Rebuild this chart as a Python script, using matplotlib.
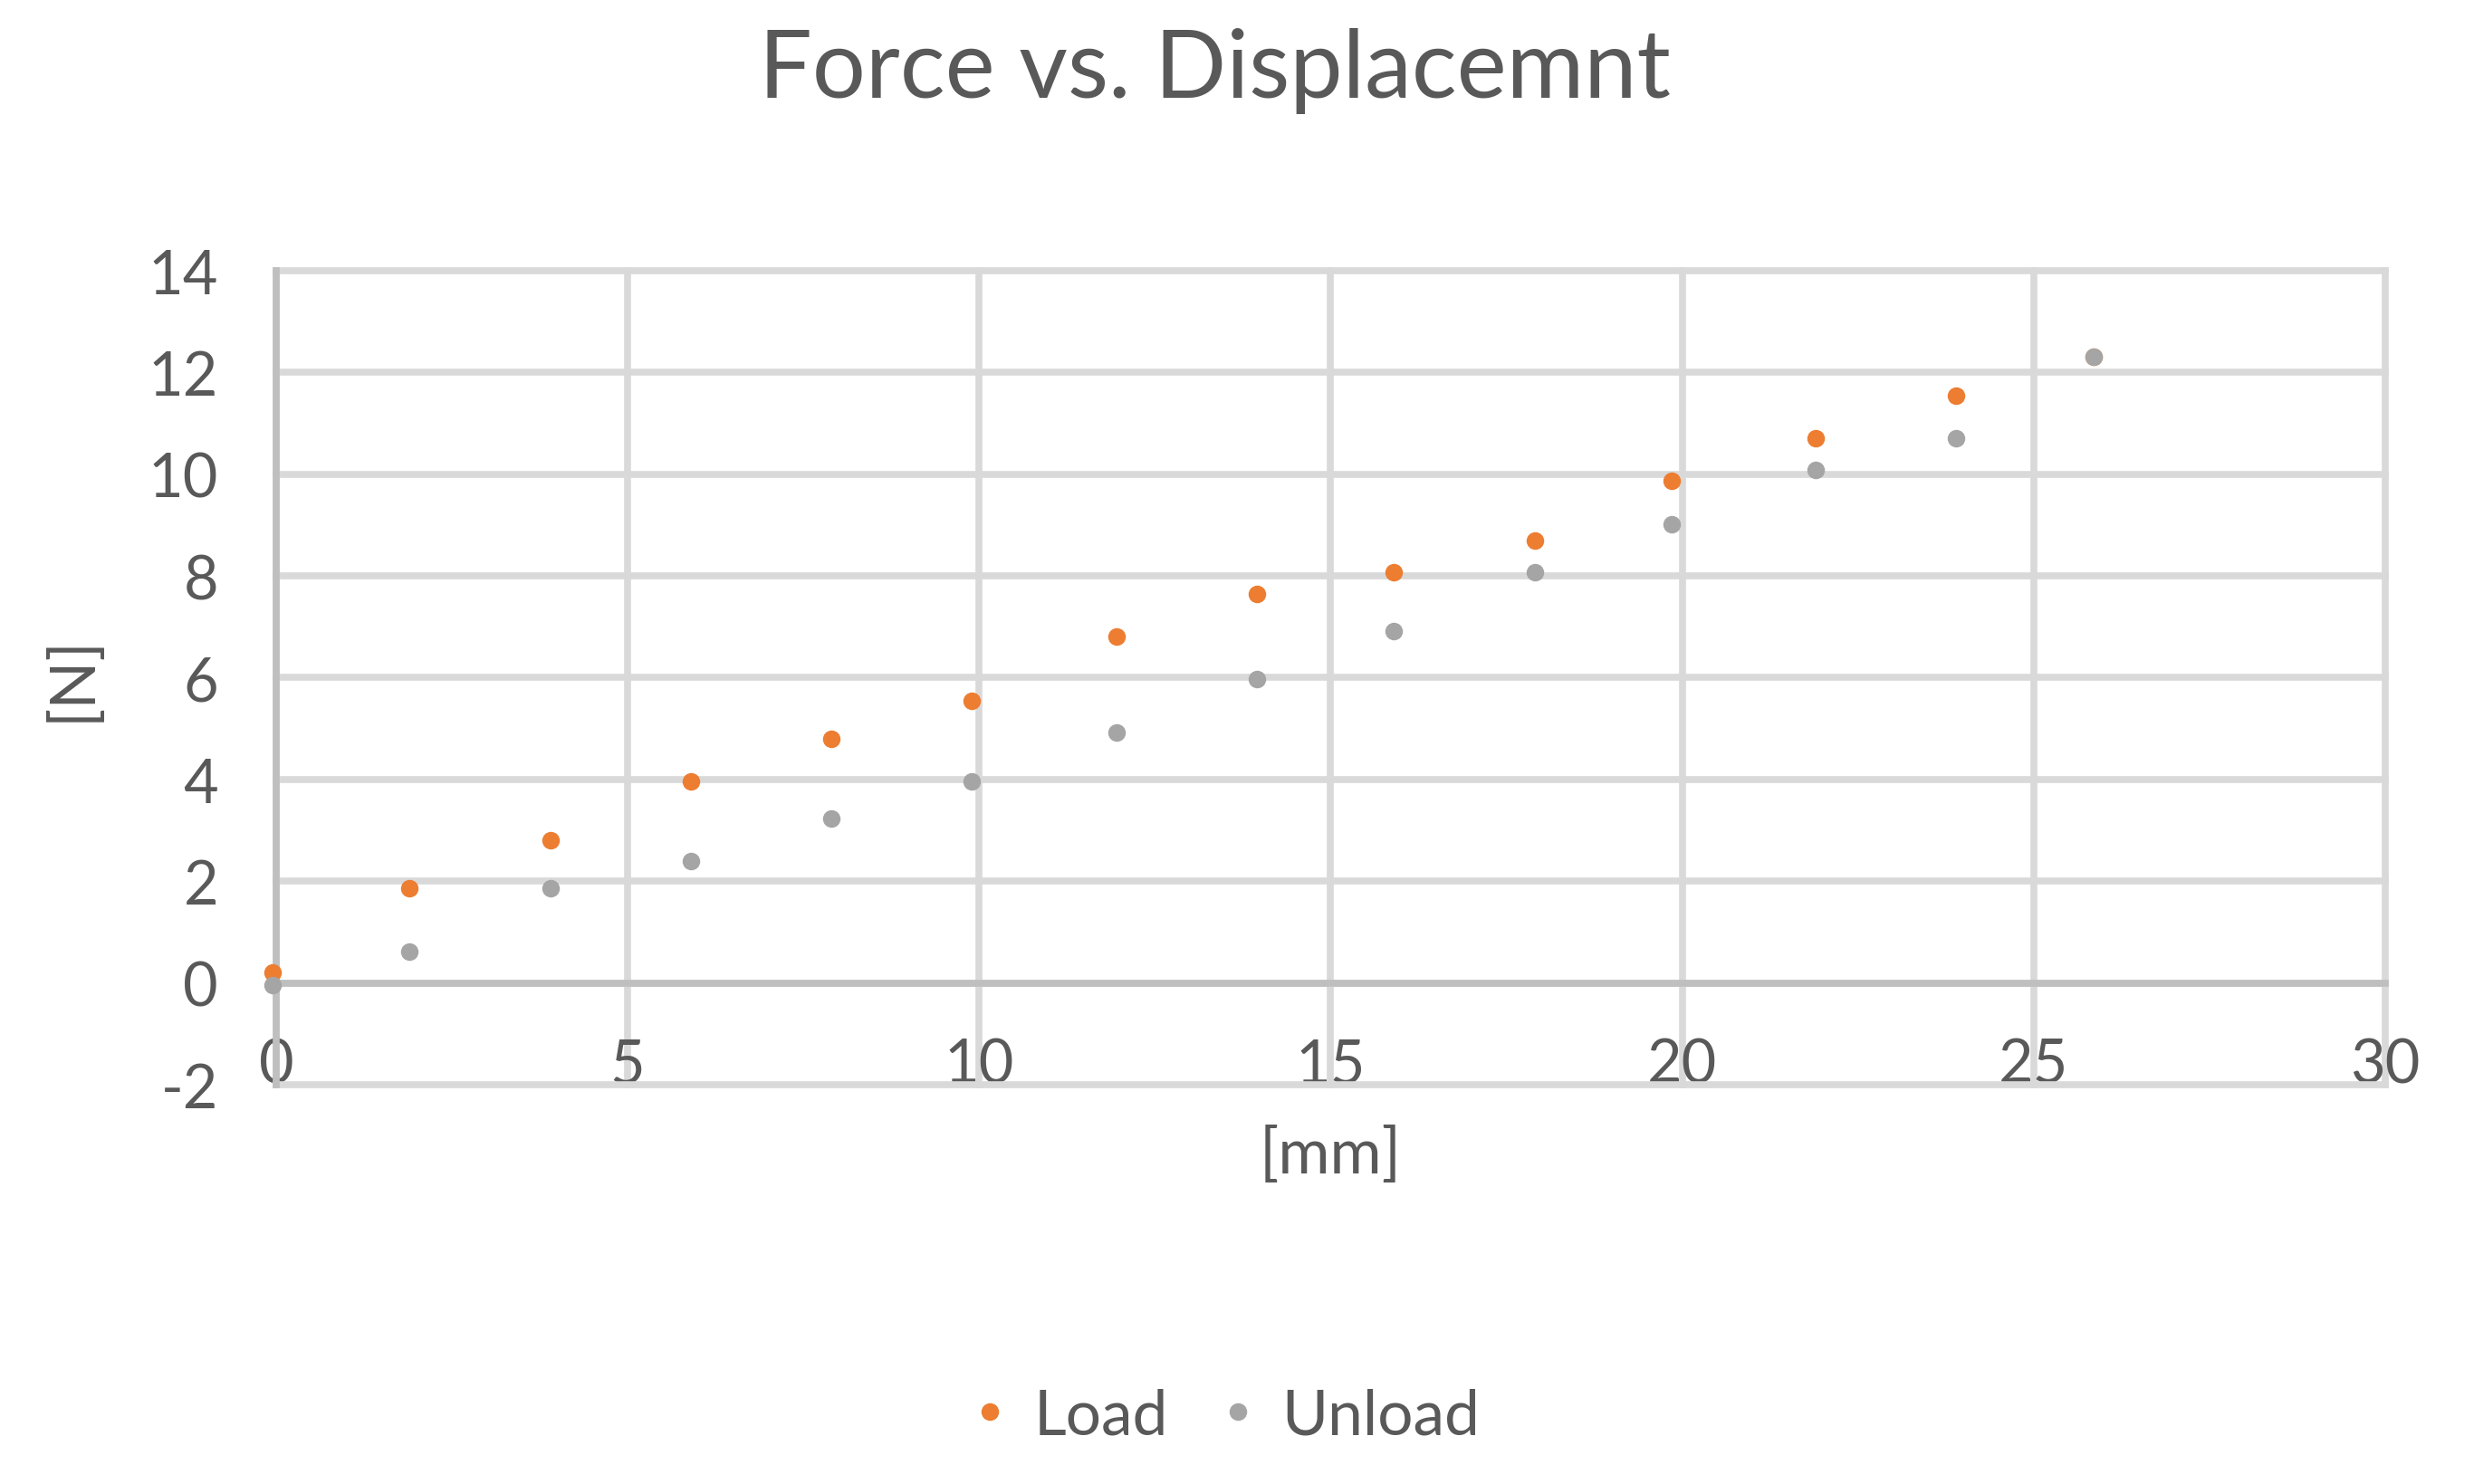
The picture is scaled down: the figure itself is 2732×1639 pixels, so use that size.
import matplotlib
matplotlib.use('Agg')
import matplotlib.pyplot as plt

plt.rcParams['font.family'] = ['Lato', 'DejaVu Sans']
plt.rcParams['axes.unicode_minus'] = False

# displacement [mm] and force [N]
disp = [-0.05, 1.9, 3.9, 5.9, 7.9, 9.9, 11.95, 13.95, 15.9, 17.9, 19.85, 21.9, 23.9, 25.85]
load = [0.2, 1.87, 2.8, 3.97, 4.8, 5.55, 6.81, 7.65, 8.08, 8.7, 9.87, 10.7, 11.55, 12.3]
unload = [-0.04, 0.61, 1.87, 2.4, 3.24, 3.97, 4.92, 5.97, 6.92, 8.07, 9.02, 10.08, 10.7, 12.3]

xticks = [0, 5, 10, 15, 20, 25, 30]
yticks = [-2, 0, 2, 4, 6, 8, 10, 12, 14]

txt = '#595959'
grid_c = '#d9d9d9'
axis_c = '#bfbfbf'

fig = plt.figure(figsize=(27.32, 16.40), dpi=100)
ax = fig.add_axes([0.1116, 0.2689, 0.8525, 0.5482])

ax.plot(disp, load, 'o', color='#ED7D31', markersize=13, label='Load', zorder=4, clip_on=False)
ax.plot(disp, unload, 'o', color='#A5A5A5', markersize=13, label='Unload', zorder=5, clip_on=False)

ax.set_xlim(0, 30)
ax.set_ylim(-2, 14)
ax.set_xticks(xticks)
ax.set_yticks(yticks)

ax.grid(True, color=grid_c, linewidth=5.5, zorder=0)
for gl in ax.get_xgridlines() + ax.get_ygridlines():
    gl.set_clip_on(False)
ax.set_axisbelow(True)

# axis lines: vertical at x=0, horizontal at y=0
ax.axhline(0, color=axis_c, linewidth=5.5, zorder=2, clip_on=False)
for s in ['top', 'right', 'bottom']:
    ax.spines[s].set_visible(False)
ax.spines['left'].set_color(axis_c)
ax.spines['left'].set_linewidth(5.5)
ax.spines['left'].set_zorder(3)

ax.tick_params(axis='both', length=0, labelsize=48, labelcolor=txt)
ax.tick_params(axis='y', pad=46)
ax.tick_params(axis='x', pad=-2)
for t in ax.get_xticklabels():
    t.set_va('baseline')

ax.set_xlabel('[mm]', fontsize=50, color=txt)
ax.xaxis.set_label_coords(0.5, -0.05)
ax.set_ylabel('[N]', fontsize=50, color=txt)
ax.yaxis.set_label_coords(-0.083, 0.5)

fig.text(0.491, 0.952, 'Force vs. Displacemnt', fontsize=75, color=txt,
         ha='center', va='center')

fig.legend(loc='center', bbox_to_anchor=(0.496, 0.046), ncol=2, frameon=False,
           fontsize=50, labelcolor=txt, handlelength=0.5, handletextpad=0.45,
           columnspacing=0.85, markerscale=1.0)

fig.savefig('out.png', dpi=100)
